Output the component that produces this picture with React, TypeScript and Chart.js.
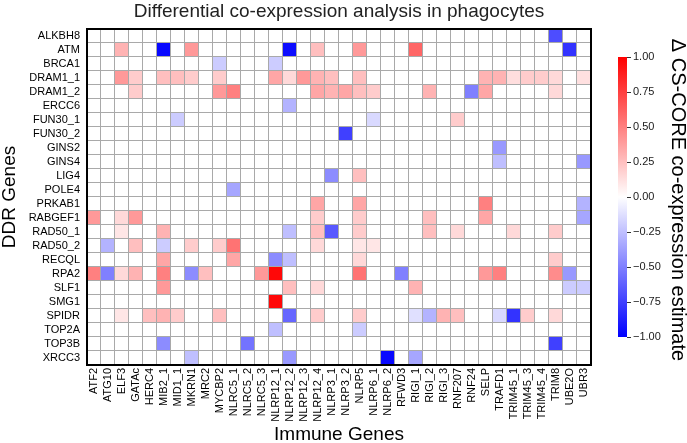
import { useEffect, useRef } from 'react';
import { Chart, registerables } from 'chart.js';

Chart.register(...registerables);

// DDR genes (rows, top to bottom)
const ddrGenes = [
  'ALKBH8', 'ATM', 'BRCA1', 'DRAM1_1', 'DRAM1_2', 'ERCC6', 'FUN30_1', 'FUN30_2',
  'GINS2', 'GINS4', 'LIG4', 'POLE4', 'PRKAB1', 'RABGEF1', 'RAD50_1', 'RAD50_2',
  'RECQL', 'RPA2', 'SLF1', 'SMG1', 'SPIDR', 'TOP2A', 'TOP3B', 'XRCC3',
];

// Immune genes (columns, left to right)
const immuneGenes = [
  'ATF2', 'ATG10', 'ELF3', 'GATAc', 'HERC4', 'MIB2_1', 'MID1_1', 'MKRN1', 'MRC2',
  'MYCBP2', 'NLRC5_1', 'NLRC5_2', 'NLRC5_3', 'NLRP12_1', 'NLRP12_2', 'NLRP12_3',
  'NLRP12_4', 'NLRP3_1', 'NLRP3_2', 'NLRP5', 'NLRP6_1', 'NLRP6_2', 'RFWD3', 'RIGI_1',
  'RIGI_2', 'RIGI_3', 'RNF207', 'RNF24', 'SELP', 'TRAFD1', 'TRIM45_1', 'TRIM45_3',
  'TRIM45_4', 'TRIM8', 'UBE2O', 'UBR3',
];

// Non-zero differential CS-CORE estimates: [DDR gene, immune gene, delta]
const deltaEstimates: [string, string, number][] = [
  ['ALKBH8', 'TRIM8', -0.7],

  ['ATM', 'ELF3', 0.3], ['ATM', 'MIB2_1', -0.97], ['ATM', 'MKRN1', 0.4],
  ['ATM', 'NLRP12_2', -0.95], ['ATM', 'NLRP12_4', 0.25], ['ATM', 'NLRP5', 0.4],
  ['ATM', 'RIGI_1', 0.6], ['ATM', 'UBE2O', -0.8],

  ['BRCA1', 'MYCBP2', -0.2], ['BRCA1', 'NLRP12_1', -0.2],

  ['DRAM1_1', 'ELF3', 0.4], ['DRAM1_1', 'GATAc', 0.2], ['DRAM1_1', 'MIB2_1', 0.25],
  ['DRAM1_1', 'MID1_1', 0.25], ['DRAM1_1', 'MKRN1', 0.2], ['DRAM1_1', 'MYCBP2', 0.2],
  ['DRAM1_1', 'NLRP12_1', 0.35], ['DRAM1_1', 'NLRP12_2', 0.15], ['DRAM1_1', 'NLRP12_3', 0.4],
  ['DRAM1_1', 'NLRP12_4', 0.3], ['DRAM1_1', 'NLRP3_1', 0.25], ['DRAM1_1', 'NLRP5', 0.25],
  ['DRAM1_1', 'SELP', 0.3], ['DRAM1_1', 'TRAFD1', 0.3], ['DRAM1_1', 'TRIM45_1', 0.13],
  ['DRAM1_1', 'TRIM45_3', 0.2], ['DRAM1_1', 'TRIM45_4', 0.2], ['DRAM1_1', 'TRIM8', 0.15],
  ['DRAM1_1', 'UBR3', 0.12],

  ['DRAM1_2', 'GATAc', 0.2], ['DRAM1_2', 'MYCBP2', 0.4], ['DRAM1_2', 'NLRC5_1', 0.5],
  ['DRAM1_2', 'NLRP12_4', 0.35], ['DRAM1_2', 'NLRP3_1', 0.3], ['DRAM1_2', 'NLRP3_2', 0.35],
  ['DRAM1_2', 'NLRP5', 0.25], ['DRAM1_2', 'NLRP6_1', 0.2], ['DRAM1_2', 'RIGI_2', 0.3],
  ['DRAM1_2', 'RNF24', -0.5], ['DRAM1_2', 'SELP', 0.35], ['DRAM1_2', 'TRIM8', 0.15],

  ['ERCC6', 'NLRP12_2', -0.3],

  ['FUN30_1', 'MID1_1', -0.2], ['FUN30_1', 'NLRP6_1', -0.15], ['FUN30_1', 'RNF207', 0.2],

  ['FUN30_2', 'NLRP3_2', -0.75],

  ['GINS2', 'TRAFD1', -0.4],

  ['GINS4', 'TRAFD1', -0.25], ['GINS4', 'UBR3', -0.4],

  ['LIG4', 'NLRP3_1', -0.45], ['LIG4', 'NLRP5', 0.25],

  ['POLE4', 'NLRC5_1', -0.35],

  ['PRKAB1', 'NLRP12_4', 0.35], ['PRKAB1', 'NLRP5', 0.35], ['PRKAB1', 'SELP', 0.5],
  ['PRKAB1', 'UBR3', -0.3],

  ['RABGEF1', 'ATF2', 0.4], ['RABGEF1', 'ELF3', 0.15], ['RABGEF1', 'GATAc', 0.4],
  ['RABGEF1', 'NLRP12_4', 0.2], ['RABGEF1', 'NLRP5', 0.2], ['RABGEF1', 'RIGI_2', 0.25],
  ['RABGEF1', 'SELP', 0.35], ['RABGEF1', 'UBR3', -0.35],

  ['RAD50_1', 'ELF3', 0.1], ['RAD50_1', 'MIB2_1', 0.3], ['RAD50_1', 'NLRP12_2', -0.25],
  ['RAD50_1', 'NLRP12_4', 0.25], ['RAD50_1', 'NLRP3_1', -0.65], ['RAD50_1', 'NLRP5', 0.2],
  ['RAD50_1', 'RIGI_2', 0.25], ['RAD50_1', 'RNF207', 0.15], ['RAD50_1', 'TRIM45_1', 0.15],
  ['RAD50_1', 'TRIM8', 0.2],

  ['RAD50_2', 'ATG10', -0.3], ['RAD50_2', 'GATAc', 0.25], ['RAD50_2', 'MIB2_1', -0.2],
  ['RAD50_2', 'MKRN1', 0.2], ['RAD50_2', 'MYCBP2', 0.2], ['RAD50_2', 'NLRC5_1', 0.55],
  ['RAD50_2', 'NLRP12_4', 0.15], ['RAD50_2', 'NLRP5', 0.1], ['RAD50_2', 'NLRP6_1', 0.1],

  ['RECQL', 'MIB2_1', 0.35], ['RECQL', 'NLRC5_1', 0.35], ['RECQL', 'NLRP12_1', -0.45],
  ['RECQL', 'NLRP12_2', -0.25], ['RECQL', 'NLRP5', 0.15], ['RECQL', 'TRIM8', 0.2],

  ['RPA2', 'ATF2', 0.5], ['RPA2', 'ATG10', -0.5], ['RPA2', 'ELF3', 0.15],
  ['RPA2', 'GATAc', 0.3], ['RPA2', 'MIB2_1', 0.5], ['RPA2', 'MKRN1', -0.45],
  ['RPA2', 'MRC2', 0.25], ['RPA2', 'NLRC5_3', 0.4], ['RPA2', 'NLRP12_1', 0.97],
  ['RPA2', 'NLRP5', 0.55], ['RPA2', 'RFWD3', -0.5], ['RPA2', 'SELP', 0.4],
  ['RPA2', 'TRAFD1', 0.5], ['RPA2', 'TRIM8', 0.45], ['RPA2', 'UBE2O', -0.4],

  ['SLF1', 'MIB2_1', 0.4], ['SLF1', 'NLRP12_2', 0.25], ['SLF1', 'NLRP12_4', 0.15],
  ['SLF1', 'RIGI_1', 0.3], ['SLF1', 'UBE2O', -0.2], ['SLF1', 'UBR3', -0.2],

  ['SMG1', 'NLRP12_1', 0.97],

  ['SPIDR', 'ELF3', 0.1], ['SPIDR', 'HERC4', 0.25], ['SPIDR', 'MIB2_1', 0.3],
  ['SPIDR', 'MID1_1', 0.2], ['SPIDR', 'MYCBP2', 0.25], ['SPIDR', 'NLRP12_2', -0.6],
  ['SPIDR', 'NLRP12_4', 0.2], ['SPIDR', 'NLRP5', 0.2], ['SPIDR', 'RIGI_1', -0.12],
  ['SPIDR', 'RIGI_2', -0.3], ['SPIDR', 'RIGI_3', 0.3], ['SPIDR', 'RNF207', 0.25],
  ['SPIDR', 'TRAFD1', -0.15], ['SPIDR', 'TRIM45_1', -0.8], ['SPIDR', 'TRIM45_3', 0.2],
  ['SPIDR', 'TRIM8', 0.15],

  ['TOP2A', 'NLRP12_1', -0.25], ['TOP2A', 'NLRP5', -0.2],

  ['TOP3B', 'MIB2_1', -0.45], ['TOP3B', 'NLRC5_2', -0.55], ['TOP3B', 'TRIM8', -0.75],

  ['XRCC3', 'MKRN1', -0.25], ['XRCC3', 'NLRP12_2', -0.4], ['XRCC3', 'NLRP6_2', -0.97],
  ['XRCC3', 'RIGI_1', -0.35],
];

// Colour bar tick values
const colorbarTicks = [1, 0.75, 0.5, 0.25, 0, -0.25, -0.5, -0.75, -1];

const FONT = "'Liberation Sans', Arial, Helvetica, sans-serif";
const GRID_COLOR = '#a9a9a9';

// matplotlib "bwr": blue -> white -> red over [-1, 1]
function bwr(v: number): string {
  const t = Math.max(-1, Math.min(1, v));
  if (t >= 0) {
    const c = Math.round(255 * (1 - t));
    return `rgb(255,${c},${c})`;
  }
  const c = Math.round(255 * (1 + t));
  return `rgb(${c},${c},255)`;
}

function formatTick(v: number): string {
  const s = Math.abs(v).toFixed(2);
  return v < 0 ? `\u2212${s}` : s;
}

const decorPlugin = {
  id: 'heatmapDecor',
  afterDatasetsDraw(chart: any) {
    const { ctx, chartArea } = chart;
    const { left, top, right, bottom } = chartArea;
    ctx.save();
    ctx.strokeStyle = '#000';
    ctx.lineWidth = 2;
    ctx.strokeRect(left, top, right - left, bottom - top);
    ctx.restore();
  },
  afterDraw(chart: any) {
    const { ctx, chartArea } = chart;
    const { left, top, right, bottom } = chartArea;
    ctx.save();

    // chart title
    ctx.fillStyle = '#222';
    ctx.font = `19px ${FONT}`;
    ctx.textAlign = 'center';
    ctx.textBaseline = 'alphabetic';
    ctx.fillText('Differential co-expression analysis in phagocytes', (left + right) / 2, 17);

    // colour bar
    const cbX = right + 27;
    const cbW = 9;
    const cbTop = top + 28;
    const cbBottom = bottom - 28;
    const grad = ctx.createLinearGradient(0, cbTop, 0, cbBottom);
    grad.addColorStop(0, bwr(1));
    grad.addColorStop(0.5, bwr(0));
    grad.addColorStop(1, bwr(-1));
    ctx.fillStyle = grad;
    ctx.fillRect(cbX, cbTop, cbW, cbBottom - cbTop);

    ctx.strokeStyle = '#333';
    ctx.lineWidth = 1;
    ctx.fillStyle = '#1a1a1a';
    ctx.font = `11px ${FONT}`;
    ctx.textAlign = 'left';
    ctx.textBaseline = 'middle';
    colorbarTicks.forEach((v) => {
      const y = cbTop + ((1 - v) / 2) * (cbBottom - cbTop);
      ctx.beginPath();
      ctx.moveTo(cbX + cbW, Math.round(y) + 0.5);
      ctx.lineTo(cbX + cbW + 4, Math.round(y) + 0.5);
      ctx.stroke();
      ctx.fillText(formatTick(v), cbX + cbW + 6, y);
    });

    // colour bar label
    ctx.translate(678, (cbTop + cbBottom) / 2 + 3);
    ctx.rotate(Math.PI / 2);
    ctx.font = `20px ${FONT}`;
    ctx.textAlign = 'center';
    ctx.textBaseline = 'middle';
    ctx.fillStyle = '#000';
    ctx.fillText('\u0394 CS-CORE co-expression estimate', 0, 0);
    ctx.restore();
  },
};

export default function App() {
  const canvasRef = useRef<HTMLCanvasElement | null>(null);

  useEffect(() => {
    const canvas = canvasRef.current;
    if (!canvas) return;

    const matrix = ddrGenes.map(() => immuneGenes.map(() => 0));
    deltaEstimates.forEach(([d, im, v]) => {
      const r = ddrGenes.indexOf(d);
      const c = immuneGenes.indexOf(im);
      if (r >= 0 && c >= 0) matrix[r][c] = v;
    });

    // one stacked dataset per DDR gene; every cell spans one unit of the y scale
    const datasets = ddrGenes.map((gene, r) => ({
      label: gene,
      data: immuneGenes.map(() => 1),
      backgroundColor: matrix[r].map(bwr),
      borderColor: GRID_COLOR,
      borderWidth: { top: 0, left: 0, right: 1, bottom: 1 },
      borderSkipped: false,
      inflateAmount: 0,
      barPercentage: 1,
      categoryPercentage: 1,
      stack: 'cells',
    }));

    const chart = new Chart(canvas, {
      type: 'bar',
      data: { labels: immuneGenes, datasets: datasets as any },
      plugins: [decorPlugin],
      options: {
        responsive: false,
        animation: false,
        events: [],
        layout: { padding: { top: 29, right: 96, bottom: 0, left: 0 } },
        plugins: {
          legend: { display: false },
          tooltip: { enabled: false },
          title: { display: false },
        },
        scales: {
          x: {
            type: 'category',
            stacked: true,
            grid: { display: false, drawTicks: false, tickLength: 0 },
            border: { display: false },
            ticks: {
              autoSkip: false,
              maxRotation: 90,
              minRotation: 90,
              padding: 3,
              color: '#000',
              font: { family: FONT, size: 11 },
            },
            title: {
              display: true,
              text: 'Immune Genes',
              color: '#000',
              font: { family: FONT, size: 19, lineHeight: 0.9 },
              padding: { top: 0, bottom: 0 },
            },
            afterFit: (scale: any) => {
              scale.height = 78;
              scale.paddingLeft = 0;
              scale.paddingRight = 0;
            },
          },
          y: {
            type: 'linear',
            stacked: true,
            min: 0,
            max: ddrGenes.length,
            reverse: true,
            grid: { display: false, drawTicks: false, tickLength: 0 },
            border: { display: false },
            afterBuildTicks: (scale: any) => {
              scale.ticks = ddrGenes.map((_, i) => ({ value: i + 0.5 }));
            },
            ticks: {
              autoSkip: false,
              padding: 7,
              color: '#000',
              font: { family: FONT, size: 11 },
              callback: (_value: any, index: number) => ddrGenes[index],
            },
            title: {
              display: true,
              text: 'DDR Genes',
              color: '#000',
              font: { family: FONT, size: 19, lineHeight: 1 },
              padding: { top: 0.5, bottom: 0 },
            },
            afterFit: (scale: any) => {
              scale.width = 87;
              scale.paddingTop = 0;
              scale.paddingBottom = 0;
            },
          },
        },
      } as any,
    });

    return () => chart.destroy();
  }, []);

  return (
    <div style={{ position: 'absolute', left: 0, top: 0, width: 687, height: 443, background: '#fff' }}>
      <canvas ref={canvasRef} width={687} height={443} />
    </div>
  );
}
